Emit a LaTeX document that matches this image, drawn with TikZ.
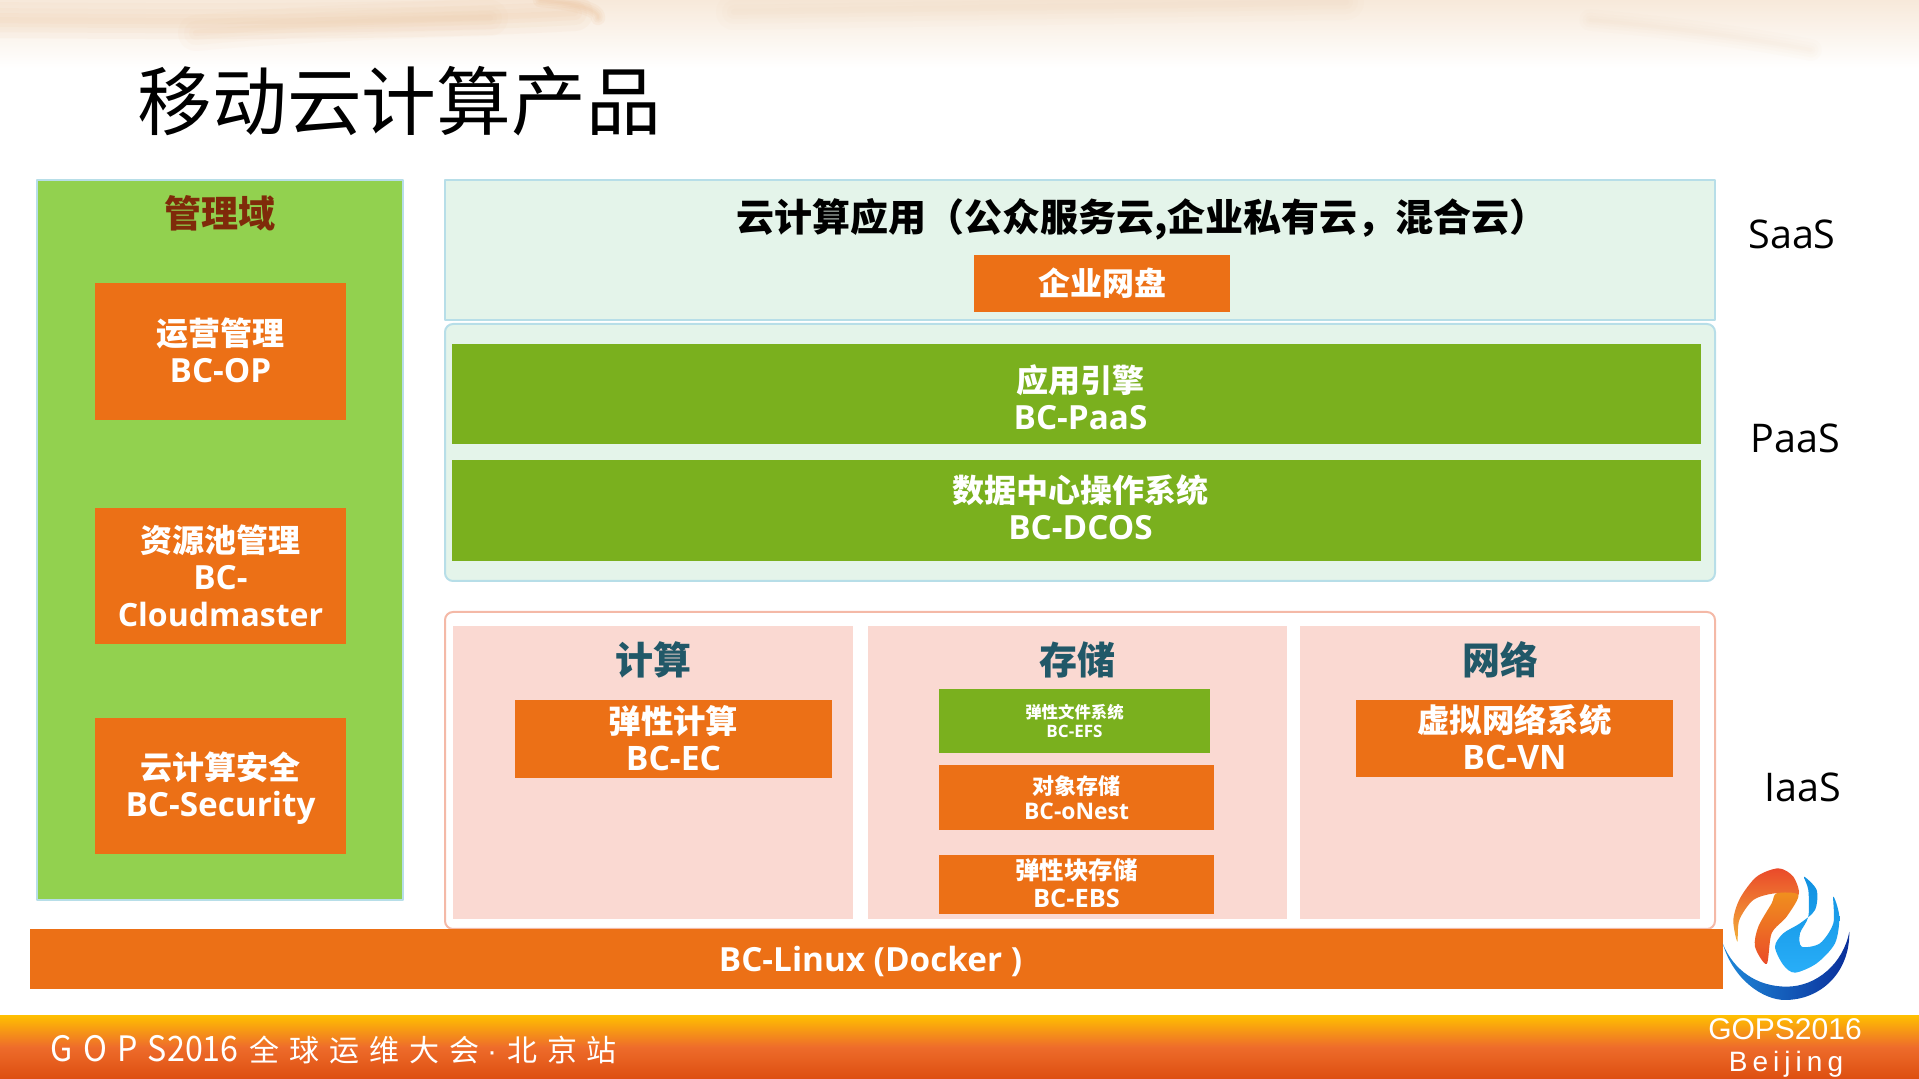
\documentclass[tikz,border=0pt]{standalone}
\usepackage{fontspec}
\setmainfont{Open Sans}[Scale=1.04]
\newfontfamily\cjk{Noto Sans CJK SC}
\newfontfamily\cjkwide[LetterSpace=33]{Noto Sans CJK SC}
\newfontfamily\latinwide[LetterSpace=30,FakeStretch=.92]{Noto Sans CJK SC}
\newfontfamily\latinnarrow[FakeStretch=.92]{Noto Sans CJK SC}
\newfontfamily\arialwide[LetterSpace=18]{Liberation Sans}
\newfontfamily\arialfont{Liberation Sans}
\definecolor{boxorange}{HTML}{EC7016}
\definecolor{boxgreen}{HTML}{7AB01E}
\definecolor{paneGreen}{HTML}{92D14F}
\definecolor{paleGreen}{HTML}{E4F4EA}
\definecolor{paleBlue}{HTML}{B7DEE8}
\definecolor{palePink}{HTML}{FAD9D2}
\definecolor{pinkline}{HTML}{F4B9A7}
\definecolor{headblue}{HTML}{215868}
\definecolor{manageRed}{HTML}{7F2A0A}
\definecolor{bandTop}{HTML}{F7E9DA}
\definecolor{bandStreak}{HTML}{EBBE94}
\definecolor{footTop}{HTML}{FFC000}
\definecolor{footMid}{HTML}{EE6C2B}
\definecolor{footEnd}{HTML}{DD4E10}
\definecolor{logoBlue}{HTML}{1E88D8}
\definecolor{logoDark}{HTML}{0A2E9A}
\definecolor{logoRed}{HTML}{EA4A2A}
\definecolor{logoGold}{HTML}{F2B03A}
\definecolor{logoOrange}{HTML}{F0901E}
\definecolor{logoSky}{HTML}{28AEF8}
\definecolor{logoMid}{HTML}{1090E0}
\definecolor{logoDeep}{HTML}{0A6EC8}
\tikzset{
	orangebox/.style={fill=boxorange,draw=none},
	greenbox/.style={fill=boxgreen,draw=none},
	boxtext/.style={midway,align=center,text=white,font=\bfseries\fontsize{16}{18.5}\selectfont,inner sep=0pt},
	headtext/.style={text=headblue,font=\cjk\bfseries\fontsize{19}{20}\selectfont,inner sep=0pt},
	sidetext/.style={text=black,font=\fontsize{19}{22}\selectfont,inner sep=0pt}
}
\begin{document}
\begin{tikzpicture}[x=0.5pt,y=-0.5pt,line join=round]
	\useasboundingbox (0,0) rectangle (1919,1079);
	% top band
	\shade[top color=bandTop,bottom color=white] (0,0) rectangle (1919,68);
	\foreach \w in {3,7,12,18}
	{
		\draw[bandStreak,opacity=.08,line width=\w pt,line cap=round] (-10,20) .. controls (200,22) and (420,22) .. (575,13);
		\draw[bandStreak,opacity=.05,line width=\w pt,line cap=round] (196,33) .. controls (280,25) and (400,20) .. (490,18);
		\draw[bandStreak,opacity=.12,line width=.4*\w pt,line cap=round] (540,0) .. controls (575,3) and (600,10) .. (598,18);
		\draw[bandStreak,opacity=.03,line width=\w pt,line cap=round] (734,12) .. controls (950,8) and (1150,6) .. (1346,2);
		\draw[bandStreak,opacity=.03,line width=.6*\w pt,line cap=round] (1590,20) .. controls (1680,28) and (1760,40) .. (1811,50);
	}
	% title
	\node[inner sep=0pt,anchor=west,font=\cjk\fontsize{37.4}{40}\selectfont] (title) at (137,101) {移动云计算产品};
	% management pane
	\draw[fill=paneGreen,draw=paleBlue,line width=1pt] (37,180) rectangle (403,900);
	\node[inner sep=0pt,text=manageRed,font=\cjk\bfseries\fontsize{18.5}{20}\selectfont] (manage) at (220,213) {管理域};
	\path[orangebox] (95,283) rectangle (346,420) node[boxtext,yshift=.5pt] (op) {{\cjk 运营管理}\\BC-OP};
	\path[orangebox] (95,508) rectangle (346,644) node[boxtext] (cloudmaster) {{\cjk 资源池管理}\\BC-\\{\fontsize{15.4}{18.5}\selectfont Cloudmaster}};
	\path[orangebox] (95,718) rectangle (346,854) node[boxtext,yshift=-1pt] (security) {{\cjk 云计算安全}\\BC-Security};
	% SaaS
	\draw[fill=paleGreen,draw=paleBlue,line width=1pt] (445,180) rectangle (1715,320);
	\node[inner sep=0pt,text=black,font=\cjk\bfseries\fontsize{19}{22}\selectfont] (apps) at (1142,219) {云计算应用（公众服务云,企业私有云，混合云）};
	\path[orangebox] (974,255) rectangle (1230,312) node[boxtext] (disk) {{\cjk 企业网盘}};
	% PaaS
	\draw[fill=paleGreen,draw=paleBlue,line width=1pt,rounded corners=4pt] (445,324) rectangle (1715,581);
	\path[greenbox] (452,344) rectangle (1701,444) node[boxtext,xshift=2pt,yshift=-1.5pt] (paas) {{\cjk 应用引擎}\\BC-PaaS};
	\path[greenbox] (452,460) rectangle (1701,561) node[boxtext,xshift=2pt,yshift=1.5pt] (dcos) {{\cjk 数据中心操作系统}\\BC-DCOS};
	% IaaS
	\draw[fill=white,draw=pinkline,line width=1pt,rounded corners=4pt] (445,612) rectangle (1715,929);
	\foreach \a/\b in {453/853,868/1287,1300/1700}
	\fill[palePink] (\a,626) rectangle (\b,919);
	\node[headtext] (compute) at (653,660) {计算};
	\node[headtext] (storage) at (1077,660) {存储};
	\node[headtext] (network) at (1500,660) {网络};
	\path[orangebox] (515,700) rectangle (832,778) node[boxtext,font=\bfseries\fontsize{16.2}{18.5}\selectfont,yshift=.5pt] (ec) {{\cjk 弹性计算}\\BC-EC};
	\path[greenbox] (939,689) rectangle (1210,753) node[boxtext,font=\bfseries\fontsize{8.2}{9.5}\selectfont] (efs) {{\cjk 弹性文件系统}\\BC-EFS};
	\path[orangebox] (939,765) rectangle (1214,830) node[boxtext,font=\bfseries\fontsize{11}{12.5}\selectfont] (onest) {{\cjk 对象存储}\\BC-oNest};
	\path[orangebox] (939,855) rectangle (1214,914) node[boxtext,font=\bfseries\fontsize{12.2}{14}\selectfont,yshift=.5pt] (ebs) {{\cjk 弹性块存储}\\BC-EBS};
	\path[orangebox] (1356,700) rectangle (1673,777) node[boxtext,font=\bfseries\fontsize{16.2}{18.5}\selectfont,yshift=.5pt] (vn) {{\cjk 虚拟网络系统}\\BC-VN};
	% linux bar
	\path[orangebox] (30,929) rectangle (1723,989) node[boxtext,xshift=-3pt,yshift=-1pt] (linux) {BC-Linux (Docker )};
	% service names
	\node[sidetext] (saas) at (1792,234) {SaaS};
	\node[sidetext] (paasname) at (1795,438) {PaaS};
	\node[sidetext] (iaas) at (1803,787) {IaaS};
	% footer
	\shade[top color=footTop,bottom color=footEnd,middle color=footMid] (0,1015) rectangle (1919,1079);
	\node[inner sep=0pt,anchor=west,text=white,font=\fontsize{15}{18}\selectfont] (meeting) at (50,1050) {{\latinwide\fontsize{17.5}{18}\selectfont GOPS}{\latinnarrow\fontsize{17.5}{18}\selectfont 2016}\hspace{5.5pt}{\cjkwide 全球运维大会}\hspace{4pt}{\arialfont ·}\hspace{5pt}{\cjkwide 北京站}};
	\node[inner sep=0pt,text=white,font=\arialfont\fontsize{15}{18}\selectfont] (gops) at (1785,1029) {GOPS2016};
	\node[inner sep=0pt,text=white,font=\arialwide\fontsize{14}{18}\selectfont] (beijing) at (1786,1064) {Beijing};
	% logo
	\begin{scope}[shift={(1500,840)},x=0.5pt/3,y=-0.5pt/3]
		\shade[left color=logoBlue,middle color=logoSky,right color=logoDark] (668,310) .. controls (700,420) and (790,480) .. (855,480) .. controls (960,480) and (1050,400) .. (1048,275) .. controls (1030,370) and (950,440) .. (860,440) .. controls (770,440) and (700,390) .. (668,310);
		\shade[top color=logoRed,bottom color=logoGold] plot[smooth cycle] coordinates {(895,165) (880,110) (835,85) (770,110) (720,175) (700,240) (712,305) (718,240) (760,180) (825,160)};
		\shade[top color=logoOrange,bottom color=logoRed] plot[smooth cycle] coordinates {(895,165) (860,230) (815,280) (800,372) (765,320) (775,260) (815,190) (830,160)};
		\shade[top color=logoMid,middle color=logoDeep,bottom color=logoSky] plot[smooth cycle] coordinates {(912,110) (950,150) (945,210) (900,250) (850,280) (825,320) (850,375) (885,398) (950,370) (1005,310) (1018,230) (1000,170) (1000,250) (960,310) (905,320) (900,280) (925,230) (925,150)};
	\end{scope}
\end{tikzpicture}
\end{document}
